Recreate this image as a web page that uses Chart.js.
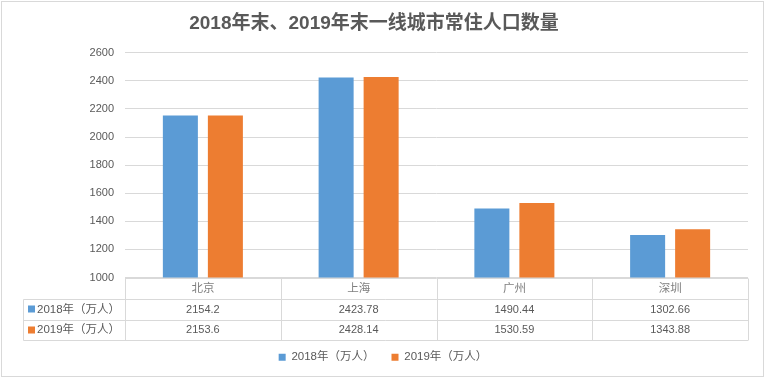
<!DOCTYPE html>
<html>
<head>
<meta charset="utf-8">
<script src="https://cdn.jsdelivr.net/npm/chart.js@4"></script>
<style>
html,body{margin:0;padding:0;background:#fff;}
#wrap{width:765px;height:378px;position:relative;}
</style>
</head>
<body>
<div id="wrap"><canvas id="c" width="765" height="378"></canvas></div>
<script>
const categories = ['北京', '上海', '广州', '深圳'];
const series2018 = [2154.2, 2423.78, 1490.44, 1302.66];
const series2019 = [2153.6, 2428.14, 1530.59, 1343.88];
const seriesNames = ['2018年（万人）', '2019年（万人）'];
const seriesLabels2018 = ['2154.2', '2423.78', '1490.44', '1302.66'];
const seriesLabels2019 = ['2153.6', '2428.14', '1530.59', '1343.88'];
const titleText = '2018年末、2019年末一线城市常住人口数量';

const FONT = '"Liberation Sans", "Noto Sans CJK SC", sans-serif';
const TXT = '#595959';
const LINE = '#d9d9d9';
const COLORS = ['#5B9BD5', '#ED7D31'];

const frame = {
  id: 'frame',
  beforeDraw(chart) {
    const ctx = chart.ctx;
    ctx.save();
    ctx.fillStyle = '#fff';
    ctx.fillRect(0, 0, chart.width, chart.height);
    ctx.strokeStyle = LINE;
    ctx.lineWidth = 1;
    ctx.strokeRect(1.5, 1.5, 762, 375);
    ctx.restore();
  }
};

const legendShift = {
  id: 'legendShift',
  afterLayout(chart) {
    if (chart.legend) {
      chart.legend.left += 9;
      chart.legend.right += 9;
    }
  }
};

const dataTable = {
  id: 'dataTable',
  afterDraw(chart) {
    const ctx = chart.ctx;
    const x = chart.scales.x;
    const area = chart.chartArea;
    const n = categories.length;
    const w = (area.right - area.left) / n;
    const top = Math.round(area.bottom) + 0.5;
    const rowH = 20.5;
    const r1 = top + rowH;
    const r2 = r1 + rowH;
    const r3 = r2 + rowH;
    const leftX = 23.5;
    ctx.save();
    ctx.strokeStyle = LINE;
    ctx.lineWidth = 1;
    ctx.beginPath();
    ctx.moveTo(area.left, top); ctx.lineTo(area.right, top);
    [r1, r2, r3].forEach(yy => { const y = Math.round(yy) + 0.5; ctx.moveTo(leftX, y); ctx.lineTo(area.right, y); });
    for (let i = 0; i <= n; i++) {
      const xx = Math.round(area.left + i * w) + 0.5;
      ctx.moveTo(xx, top); ctx.lineTo(xx, Math.round(r3) + 0.5);
    }
    ctx.moveTo(leftX, Math.round(r1) + 0.5); ctx.lineTo(leftX, Math.round(r3) + 0.5);
    ctx.stroke();

    ctx.fillStyle = TXT;
    ctx.textAlign = 'center';
    ctx.textBaseline = 'middle';
    const rows = [seriesLabels2018, seriesLabels2019];
    const ys = [(r1 + r2) / 2, (r2 + r3) / 2];
    rows.forEach((row, ri) => {
      ctx.font = '11px ' + FONT;
      row.forEach((v, i) => {
        ctx.fillText(v, x.getPixelForValue(i), ys[ri] + 0.5);
      });
      ctx.fillStyle = COLORS[ri];
      ctx.fillRect(28, Math.round(ys[ri]) - 3.5, 7, 7);
      ctx.fillStyle = TXT;
      ctx.textAlign = 'left';
      ctx.font = '11.5px ' + FONT;
      ctx.fillText(seriesNames[ri], 37, ys[ri] + 0.5);
      ctx.textAlign = 'center';
    });
    ctx.restore();
  }
};

new Chart(document.getElementById('c'), {
  type: 'bar',
  data: {
    labels: categories,
    datasets: [
      { label: seriesNames[0], data: series2018, backgroundColor: COLORS[0], categoryPercentage: 0.578, barPercentage: 0.778 },
      { label: seriesNames[1], data: series2019, backgroundColor: COLORS[1], categoryPercentage: 0.578, barPercentage: 0.778 }
    ]
  },
  options: {
    responsive: false,
    animation: false,
    layout: { padding: { left: 0, right: 17, top: 2, bottom: 5 } },
    plugins: {
      title: {
        display: true,
        text: titleText,
        color: TXT,
        font: { family: FONT, size: 19, weight: 'bold' },
        padding: { top: 10, bottom: 18 }
      },
      legend: {
        position: 'bottom',
        labels: {
          color: TXT,
          font: { family: FONT, size: 11.5 },
          boxWidth: 7,
          boxHeight: 7,
          padding: 17
        }
      },
      tooltip: { enabled: false }
    },
    scales: {
      x: {
        grid: { display: false, drawTicks: false },
        border: { display: false },
        ticks: { color: '#7f7f7f', font: { family: FONT, size: 11.5 }, padding: 4 },
        afterFit(s) { s.height = 57; }
      },
      y: {
        min: 1000,
        max: 2600,
        ticks: { stepSize: 200, color: TXT, font: { family: FONT, size: 11 }, padding: 11, callback: v => String(v) },
        grid: { color: LINE, drawTicks: false },
        border: { display: false },
        afterFit(s) { s.width = 125; }
      }
    }
  },
  plugins: [frame, legendShift, dataTable]
});
</script>
</body>
</html>
